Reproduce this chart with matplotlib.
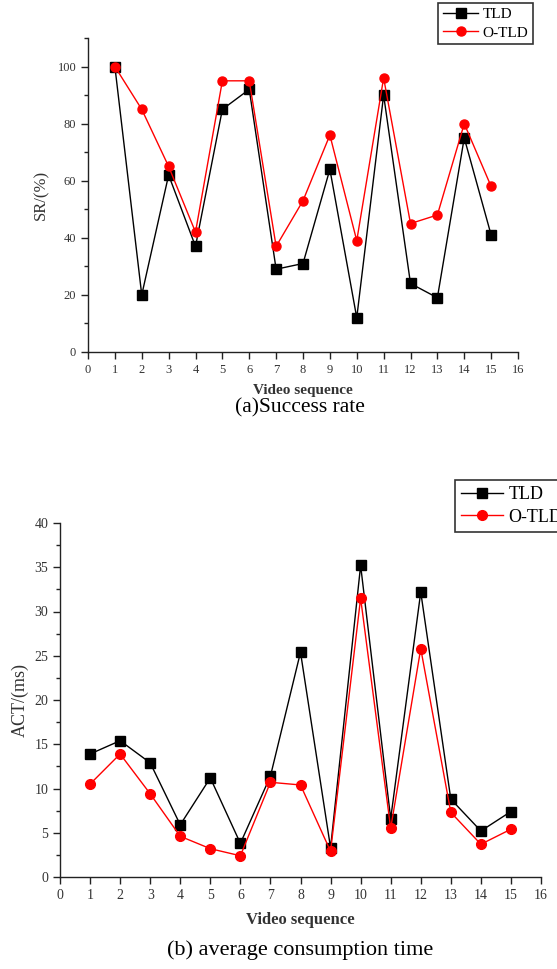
import matplotlib
matplotlib.use("Agg")
import matplotlib.pyplot as plt
from matplotlib.ticker import MultipleLocator

plt.rcParams['font.family'] = ['Liberation Serif', 'DejaVu Serif']

seq = list(range(1, 16))
sr_tld = [100, 20, 62, 37, 85, 92, 29, 31, 64, 12, 90, 24, 19, 75, 41]
sr_otld = [100, 85, 65, 42, 95, 95, 37, 53, 76, 39, 96, 45, 48, 80, 58]
act_tld = [13.9, 15.4, 12.9, 5.9, 11.2, 3.8, 11.4, 25.4, 3.3, 35.2, 6.6, 32.2, 8.8, 5.2, 7.4]
act_otld = [10.5, 13.9, 9.4, 4.6, 3.2, 2.4, 10.7, 10.4, 2.9, 31.5, 5.5, 25.8, 7.3, 3.7, 5.4]
series_names = ["TLD", "O-TLD"]

fig = plt.figure(figsize=(5.57, 9.69), dpi=100)

tick_col = '#333333'

def style(ax, ymax, ymaj, ymin, fs):
    ax.set_xlim(0, 16)
    ax.set_ylim(0, ymax)
    ax.xaxis.set_major_locator(MultipleLocator(1))
    ax.yaxis.set_major_locator(MultipleLocator(ymaj))
    ax.yaxis.set_minor_locator(MultipleLocator(ymin))
    for s in ['top', 'right']:
        ax.spines[s].set_visible(False)
    for s in ['left', 'bottom']:
        ax.spines[s].set_linewidth(1.0)
        ax.spines[s].set_color('#222222')
    ax.tick_params(which='major', direction='out', length=5, width=1.0,
                   labelsize=fs, labelcolor=tick_col, color='#222222')
    ax.tick_params(which='minor', direction='out', length=3, width=1.0, color='#222222')
    ax.tick_params(axis='x', which='minor', bottom=False)

# (a) Success rate
ax1 = fig.add_axes([88/557, 1-352/969, 430/557, 314/969])
ax1.plot(seq, sr_tld, color='black', lw=1.0, marker='s', ms=6.5, label=series_names[0])
ax1.plot(seq, sr_otld, color='red', lw=1.0, marker='o', ms=6.5, label=series_names[1])
style(ax1, 110, 20, 10, 9)
ax1.set_yticks([0, 20, 40, 60, 80, 100])
ax1.set_xlabel("Video sequence", fontsize=11, fontweight='bold', color='#333333', labelpad=6)
ax1.set_ylabel("SR/(%)", fontsize=12, color='#333333', labelpad=6)
leg1 = fig.legend(handles=ax1.get_lines(), loc='upper right',
                  bbox_to_anchor=(533/557, 1-3/969), fontsize=11, frameon=True,
                  fancybox=False, handlelength=2.3, borderpad=0.3, labelspacing=0.3,
                  handletextpad=0.3, borderaxespad=0)
leg1.get_frame().set_edgecolor('black')
leg1.get_frame().set_linewidth(1.2)
fig.text(300/557, 1-408/969, "(a)Success rate", ha='center', va='center', fontsize=15.5)

# (b) average consumption time
ax2 = fig.add_axes([60/557, 1-877/969, 481/557, 354/969])
ax2.plot(seq, act_tld, color='black', lw=1.0, marker='s', ms=7, label=series_names[0])
ax2.plot(seq, act_otld, color='red', lw=1.0, marker='o', ms=7, label=series_names[1])
style(ax2, 40, 5, 2.5, 10)
ax2.set_xlabel("Video sequence", fontsize=12, fontweight='bold', color='#333333', labelpad=7)
ax2.set_ylabel("ACT/(ms)", fontsize=13, color='#333333', labelpad=4)
leg2 = fig.legend(handles=ax2.get_lines(), loc='upper left',
                  bbox_to_anchor=(455/557, 1-480/969), fontsize=13, frameon=True,
                  fancybox=False, handlelength=2.3, borderpad=0.35, labelspacing=0.3,
                  handletextpad=0.3, borderaxespad=0)
leg2.get_frame().set_edgecolor('black')
leg2.get_frame().set_linewidth(1.2)
fig.text(300/557, 1-950/969, "(b) average consumption time", ha='center', va='center', fontsize=16)

fig.savefig("out.png", dpi=100, facecolor='white')
